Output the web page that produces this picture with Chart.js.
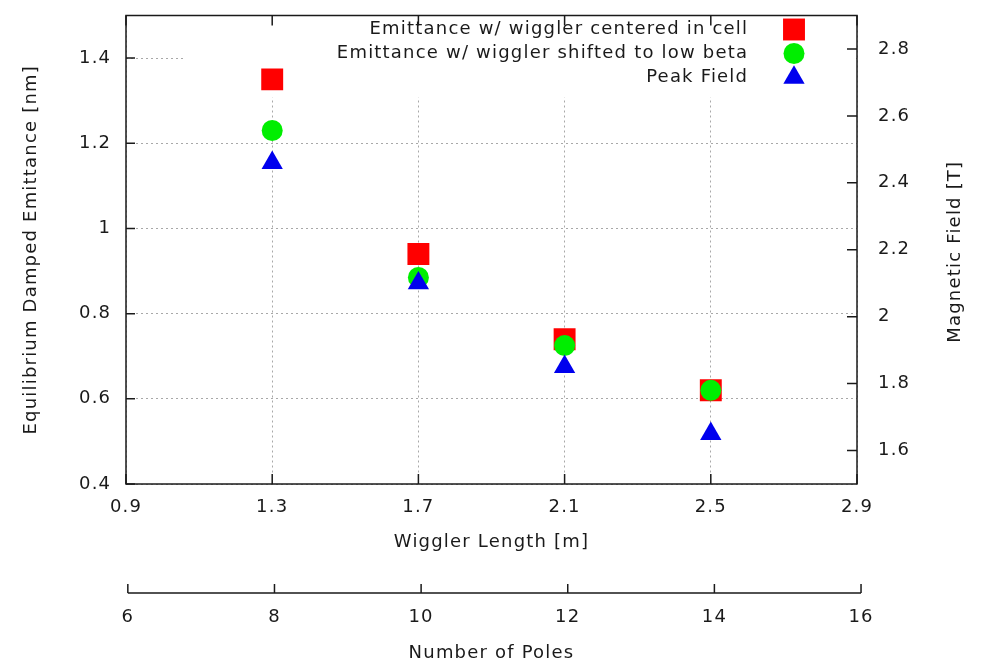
<!DOCTYPE html>
<html>
<head>
<meta charset="utf-8">
<title>Emittance and peak field vs wiggler length</title>
<script src="https://cdn.jsdelivr.net/npm/chart.js@4.4.1/dist/chart.umd.min.js"></script>
<style>
  html, body { margin: 0; padding: 0; background: #fff; }
</style>
</head>
<body>
<canvas id="chart" width="986" height="668"></canvas>
<script>
// values
const wigglerLength = [1.3, 1.7, 2.1, 2.5];
const emittanceCentered = [1.35, 0.94, 0.74, 0.62];
const emittanceLowBeta = [1.23, 0.885, 0.725, 0.62];
const peakField = [2.46, 2.10, 1.85, 1.65];

const lengthTicks = [0.9, 1.3, 1.7, 2.1, 2.5, 2.9];
const emittanceTicks = [0.4, 0.6, 0.8, 1.0, 1.2, 1.4];
const fieldTicks = [1.6, 1.8, 2.0, 2.2, 2.4, 2.6, 2.8];
const poleTicks = [6, 8, 10, 12, 14, 16];

const seriesLabels = [
  "Emittance w/ wiggler centered in cell",
  "Emittance w/ wiggler shifted to low beta",
  "Peak Field"
];

const FONT = { family: "'DejaVu Sans', sans-serif", size: 18 };
const TEXT = "#1a1a1a";
const GRID = "#a8a8a8";
const LS = 1.2; // gnuplot text is spaced out, copy that

const toPoints = (ys) => wigglerLength.map((x, i) => ({ x: x, y: ys[i] }));
const useTicks = (list) => (scale) => { scale.ticks = list.map(v => ({ value: v })); };
const fixWidth = (w) => (s) => { s.width = w; s.paddingTop = 0; s.paddingBottom = 0; };
const fixHeight = (h) => (s) => { s.height = h; s.paddingLeft = 0; s.paddingRight = 0; };

function drawMarker(ctx, style, x, y, r, color) {
  ctx.fillStyle = color;
  ctx.beginPath();
  if (style === "rect") {
    const h = r * Math.SQRT1_2;
    ctx.rect(x - h, y - h, 2 * h, 2 * h);
  } else if (style === "circle") {
    ctx.arc(x, y, r, 0, Math.PI * 2);
  } else {
    const s = Math.sin(2 * Math.PI / 3) * r;
    ctx.moveTo(x, y - r);
    ctx.lineTo(x + s, y + r / 2);
    ctx.lineTo(x - s, y + r / 2);
    ctx.closePath();
  }
  ctx.fill();
}

const gnuplotLook = {
  id: "gnuplotLook",
  beforeLayout(chart) { chart.ctx.letterSpacing = LS + "px"; },
  beforeDraw(chart) { chart.ctx.letterSpacing = LS + "px"; },
  beforeDatasetsDraw(chart) {
    // the key is opaque in the original and hides the grid behind it
    const { ctx, chartArea } = chart;
    ctx.save();
    ctx.fillStyle = "#fff";
    ctx.fillRect(183, chartArea.top + 1, chartArea.right - 184, 81);
    ctx.restore();
  },
  afterDatasetsDraw(chart) {
    const { ctx, chartArea: a, scales } = chart;
    ctx.save();
    ctx.strokeStyle = TEXT;
    ctx.lineWidth = 1.5;
    ctx.strokeRect(a.left, a.top, a.right - a.left, a.bottom - a.top);

    ctx.beginPath();
    lengthTicks.forEach(v => {
      const px = scales.x.getPixelForValue(v);
      ctx.moveTo(px, a.bottom); ctx.lineTo(px, a.bottom - 10);
      ctx.moveTo(px, a.top); ctx.lineTo(px, a.top + 10);
    });
    emittanceTicks.forEach(v => {
      const py = scales.y.getPixelForValue(v);
      ctx.moveTo(a.left, py); ctx.lineTo(a.left + 9, py);
    });
    fieldTicks.forEach(v => {
      const py = scales.y2.getPixelForValue(v);
      ctx.moveTo(a.right, py); ctx.lineTo(a.right - 10, py);
    });
    // second x axis: number of poles
    const x2 = scales.x2;
    const ly = x2.top + 8;
    const first = x2.getPixelForValue(poleTicks[0]);
    const last = x2.getPixelForValue(poleTicks[poleTicks.length - 1]);
    ctx.moveTo(first, ly); ctx.lineTo(last, ly);
    poleTicks.forEach(v => {
      const px = x2.getPixelForValue(v);
      ctx.moveTo(px, ly); ctx.lineTo(px, ly - 9);
    });
    ctx.stroke();

    // key
    ctx.font = FONT.size + "px " + FONT.family;
    ctx.textAlign = "right";
    ctx.textBaseline = "middle";
    chart.data.datasets.forEach((ds, i) => {
      const y = 29.5 + i * 24;
      ctx.fillStyle = TEXT;
      ctx.fillText(ds.label, 747 + LS, y);
      drawMarker(ctx, ds.pointStyle, 794, y, ds.pointRadius, ds.backgroundColor);
    });

    // right axis title reads bottom to top like the left one
    ctx.fillStyle = TEXT;
    ctx.textAlign = "center";
    ctx.translate(955, (a.top + a.bottom) / 2 + 2);
    ctx.rotate(-Math.PI / 2);
    ctx.fillText("Magnetic Field [T]", 0, 0);
    ctx.restore();
  }
};

new Chart(document.getElementById("chart"), {
  type: "scatter",
  data: {
    datasets: [
      {
        label: seriesLabels[0],
        data: toPoints(emittanceCentered),
        yAxisID: "y",
        pointStyle: "rect",
        pointRadius: 15.5,
        backgroundColor: "#ff0000",
        pointBorderWidth: 0,
        order: 3
      },
      {
        label: seriesLabels[1],
        data: toPoints(emittanceLowBeta),
        yAxisID: "y",
        pointStyle: "circle",
        pointRadius: 10.5,
        backgroundColor: "#00ee00",
        pointBorderWidth: 0,
        order: 2
      },
      {
        label: seriesLabels[2],
        data: toPoints(peakField),
        yAxisID: "y2",
        pointStyle: "triangle",
        pointRadius: 12.3,
        backgroundColor: "#0000ee",
        pointBorderWidth: 0,
        order: 1
      }
    ]
  },
  options: {
    responsive: false,
    animation: false,
    devicePixelRatio: 1,
    layout: { padding: { top: 8, left: 0, right: 0, bottom: 0 } },
    plugins: {
      legend: { display: false },
      tooltip: { enabled: false }
    },
    scales: {
      x: {
        type: "linear",
        position: "bottom",
        weight: 0,
        min: 0.9,
        max: 2.9,
        afterBuildTicks: useTicks(lengthTicks),
        afterFit: fixHeight(101),
        grid: { color: GRID, drawTicks: false },
        border: { display: false, dash: [2, 3] },
        ticks: { font: FONT, color: TEXT, padding: 13, maxRotation: 0, callback: v => String(v) },
        title: { display: true, text: "Wiggler Length [m]", font: FONT, color: TEXT, padding: { top: 0, bottom: 32 } }
      },
      x2: {
        // the poles axis sits a few pixels right of the length axis in the original
        type: "linear",
        position: "bottom",
        weight: 1,
        min: 5.975,
        max: 15.945,
        afterBuildTicks: useTicks(poleTicks),
        afterFit: fixHeight(83),
        grid: { display: false, drawTicks: false },
        border: { display: false },
        ticks: { font: FONT, color: TEXT, padding: 22, maxRotation: 0, callback: v => String(v) },
        title: { display: true, text: "Number of Poles", font: FONT, color: TEXT, padding: { top: 0, bottom: 4 } }
      },
      y: {
        type: "linear",
        position: "left",
        min: 0.4,
        max: 1.5,
        afterBuildTicks: useTicks(emittanceTicks),
        afterFit: fixWidth(126),
        grid: { color: GRID, drawTicks: false },
        border: { display: false, dash: [2, 3] },
        ticks: { font: FONT, color: TEXT, padding: 16 - LS, callback: v => String(v) },
        title: { display: true, text: "Equilibrium Damped Emittance [nm]", font: FONT, color: TEXT, padding: { top: 21, bottom: 0 } }
      },
      y2: {
        type: "linear",
        position: "right",
        min: 1.5,
        max: 2.9,
        afterBuildTicks: useTicks(fieldTicks),
        afterFit: fixWidth(129),
        grid: { drawOnChartArea: false, drawTicks: false },
        border: { display: false },
        ticks: { font: FONT, color: TEXT, padding: 21, callback: v => String(v) }
      }
    }
  },
  plugins: [gnuplotLook]
});
</script>
</body>
</html>
